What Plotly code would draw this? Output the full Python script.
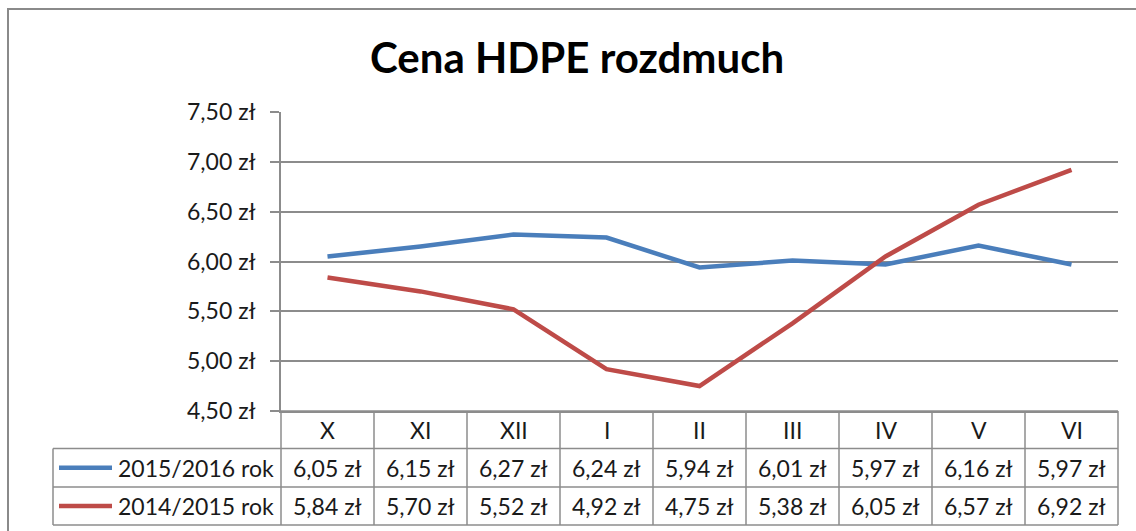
import plotly.graph_objects as go

# ---- data ----
categories = ["X", "XI", "XII", "I", "II", "III", "IV", "V", "VI"]
series_names = ["2015/2016 rok", "2014/2015 rok"]
values_2015_2016 = [6.05, 6.15, 6.27, 6.24, 5.94, 6.01, 5.97, 6.16, 5.97]
values_2014_2015 = [5.84, 5.70, 5.52, 4.92, 4.75, 5.38, 6.05, 6.57, 6.92]
title_text = "Cena HDPE rozdmuch"
y_min, y_max, y_step = 4.5, 7.5, 0.5

colors = ["#4a7ebb", "#be4b48"]
series_values = [values_2015_2016, values_2014_2015]

# ---- layout geometry (pixels) ----
W, H = 1136, 531
PL, PR, PT, PB = 281, 1118, 112, 411  # plot area
FONT = "Lato"
FS = 23
TXT = "#1a1a1a"
LINE_C = "#8c8c8c"


def px(x):
    return (x - PL) / (PR - PL)


def py(y):
    return (PB - y) / (PB - PT)


def fmt(v):
    return f"{v:.2f} zł".replace(".", ",")


fig = go.Figure()
for name, vals, col in zip(series_names, series_values, colors):
    fig.add_trace(go.Scatter(
        x=categories, y=vals, mode="lines", name=name,
        line=dict(color=col, width=4.5), showlegend=False,
    ))

shapes = []
annotations = []

# outer chart border
shapes.append(dict(type="rect", xref="paper", yref="paper",
                   x0=px(8), x1=px(1145), y0=py(9), y1=py(545),
                   line=dict(color="#8a8a8a", width=2), fillcolor="rgba(0,0,0,0)"))

# data table grid
row_y = [411, 448.5, 487, 525]
n = len(categories)
shapes.append(dict(type="line", xref="paper", yref="paper", x0=px(PL), x1=px(PR),
                   y0=py(row_y[0]), y1=py(row_y[0]), line=dict(color=LINE_C, width=1.5)))
for yy in row_y[1:]:
    shapes.append(dict(type="line", xref="paper", yref="paper", x0=px(53), x1=px(PR),
                       y0=py(yy), y1=py(yy), line=dict(color=LINE_C, width=1.5)))
for i in range(n + 1):
    xp = i / n
    shapes.append(dict(type="line", xref="paper", yref="paper", x0=xp, x1=xp,
                       y0=py(row_y[0]), y1=py(row_y[-1]), line=dict(color=LINE_C, width=1.5)))
shapes.append(dict(type="line", xref="paper", yref="paper", x0=px(53), x1=px(53),
                   y0=py(row_y[1]), y1=py(row_y[-1]), line=dict(color=LINE_C, width=1.5)))

# header labels
hy = py((row_y[0] + row_y[1]) / 2)
for c in categories:
    annotations.append(dict(x=c, xref="x", y=hy, yref="paper", text=c, showarrow=False,
                            font=dict(family=FONT, size=FS, color=TXT),
                            xanchor="center", yanchor="middle"))

# rows
for r, (name, vals, col) in enumerate(zip(series_names, series_values, colors)):
    yc = py((row_y[r + 1] + row_y[r + 2]) / 2)
    shapes.append(dict(type="line", xref="paper", yref="paper", x0=px(59), x1=px(112),
                       y0=yc, y1=yc, line=dict(color=col, width=4.5)))
    annotations.append(dict(x=px(116), xref="paper", y=yc, yref="paper", text=name,
                            showarrow=False, font=dict(family=FONT, size=FS, color=TXT),
                            xanchor="left", yanchor="middle"))
    for c, v in zip(categories, vals):
        annotations.append(dict(x=c, xref="x", y=yc, yref="paper", text=fmt(v),
                                showarrow=False, font=dict(family=FONT, size=FS, color=TXT),
                                xanchor="center", yanchor="middle"))

# title
annotations.append(dict(x=px(577), xref="paper", y=py(57), yref="paper", text=f"<b>{title_text}</b>",
                        showarrow=False, font=dict(family=FONT, size=42, color="#000000"),
                        xanchor="center", yanchor="middle"))

fig.update_layout(
    width=W, height=H,
    margin=dict(l=PL, r=W - PR, t=PT, b=H - PB, pad=0),
    paper_bgcolor="white", plot_bgcolor="white",
    separators=", ",
    showlegend=False,
    shapes=shapes,
    annotations=annotations,
    font=dict(family=FONT, size=FS, color=TXT),
)
fig.update_xaxes(
    type="category", categoryorder="array", categoryarray=categories,
    range=[-0.5, n - 0.5], showgrid=False, showticklabels=False, ticks="",
    showline=True, linecolor=LINE_C, linewidth=1.5, zeroline=False,
)
fig.update_yaxes(
    range=[y_min, y_max], dtick=y_step, tick0=y_min, tickformat=".2f", ticksuffix=" zł",
    showgrid=True, gridcolor=LINE_C, gridwidth=1.5,
    showline=True, linecolor=LINE_C, linewidth=1.5, zeroline=False,
    ticks="outside", ticklen=9, tickcolor=LINE_C, tickwidth=1.5,
    ticklabelstandoff=10,
    tickfont=dict(family=FONT, size=FS, color=TXT),
)

fig.write_html(
    "out.html",
    config={"displayModeBar": False},
    post_script="document.body.style.margin='0';document.body.style.overflow='hidden';",
)
